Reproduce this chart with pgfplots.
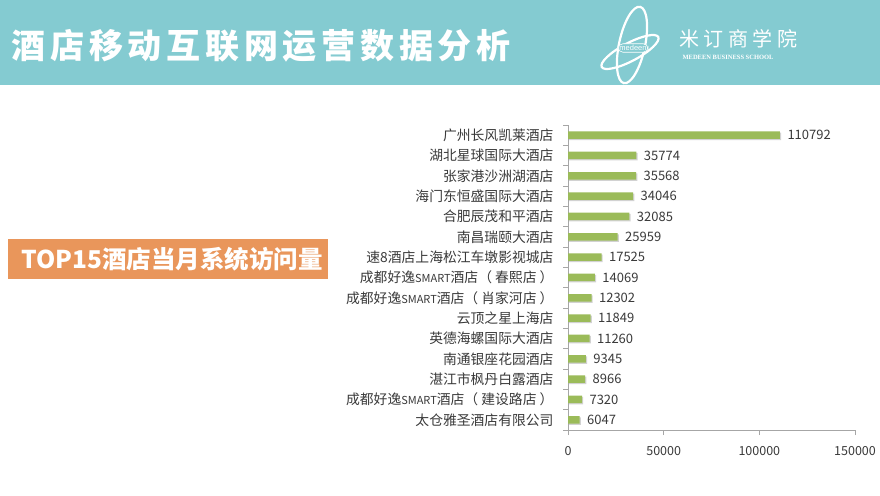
\documentclass[border=0pt]{standalone}
\usepackage{pgfplots}
\pgfplotsset{compat=1.18}
\usepackage{fontspec}
\setmainfont{Noto Sans CJK SC}
\newfontfamily\titlefont[LetterSpace=14]{Noto Sans CJK SC}
\newfontfamily\logofont[LetterSpace=22]{Noto Sans CJK SC}
\newfontfamily\serifont{Liberation Serif}
\newfontfamily\smallsans{Liberation Sans}
\usetikzlibrary{shadows}
\definecolor{headbg}{HTML}{84CBD1}
\definecolor{orangebox}{HTML}{E9965B}
\definecolor{bargreen}{HTML}{9BBB59}
\definecolor{txt}{HTML}{3A3A3A}
\definecolor{axgray}{HTML}{A6A6A6}
\begin{document}
\begin{tikzpicture}[x=1pt,y=1pt]
\useasboundingbox (0,0) rectangle (880,495);
\fill[white] (0,0) rectangle (880,495);
% header
\fill[headbg] (0,410) rectangle (880,495);
\node[anchor=west, text=white, font=\titlefont\bfseries\fontsize{34}{36}\selectfont] at (8,449) {酒店移动互联网运营数据分析};
% logo
\begin{scope}[white, line width=2.2pt]
\draw[rotate around={-12:(632,450)}] (632,450) ellipse [x radius=13, y radius=39];
\draw[rotate around={28:(630,443)}] (630,443) ellipse [x radius=32, y radius=9];
\end{scope}
\node[fill=headbg, inner sep=1.5pt, draw=white, line width=0.6pt, rounded corners=5pt, text=white, font=\smallsans\fontsize{7.5}{8}\selectfont] at (633,447) {medeen};
\node[anchor=west, text=white, font=\logofont\fontsize{20}{22}\selectfont] at (676,456) {米订商学院};
\node[anchor=west, text=white, font=\serifont\bfseries\fontsize{6.5}{7}\selectfont] at (679,438) {MEDEEN BUSINESS SCHOOL};
% orange label
\fill[orangebox] (8,216) rectangle (328,256);
\node[anchor=west, text=white, font=\bfseries\fontsize{24.5}{26}\selectfont] at (18,236) {TOP15酒店当月系统访问量};
\begin{axis}[
  at={(568pt,65pt)}, anchor=south west,
  scale only axis, width=287pt, height=305pt,
  xmin=0, xmax=150000, ymin=-0.5, ymax=14.5,
  axis x line*=bottom, axis y line*=left,
  axis line style={axgray, line width=0.8pt},
  every tick/.style={axgray, line width=0.8pt},
  tick align=outside,
  xtick={0,50000,100000,150000},
  xticklabels={0,50000,100000,150000},
  major tick length=5pt,
  scaled x ticks=false,
  xticklabel style={font=\fontsize{12.5}{13}\selectfont, text=txt, yshift=-8pt},
  ytick={0,...,14},
  major y tick style={draw=none},
  minor ytick={-0.5,0.5,...,14.5},
  minor tick length=5pt,
  minor y tick style={axgray, line width=0.8pt},
  yticklabels={太仓雅圣酒店有限公司,成都好逸{\fontsize{11}{12}\selectfont SMART}酒店（ 建设路店 ）,湛江市枫丹白露酒店,南通银座花园酒店,英德海螺国际大酒店,云顶之星上海店,成都好逸{\fontsize{11}{12}\selectfont SMART}酒店（ 肖家河店 ）,成都好逸{\fontsize{11}{12}\selectfont SMART}酒店（ 春熙店 ）,速8酒店上海松江车墩影视城店,南昌瑞颐大酒店,合肥辰茂和平酒店,海门东恒盛国际大酒店,张家港沙洲湖酒店,湖北星球国际大酒店,广州长风凯莱酒店},
  yticklabel style={font=\fontsize{13.8}{14}\selectfont, text=txt, xshift=-6pt},
  point meta=explicit symbolic,
  nodes near coords,
  nodes near coords style={font=\fontsize{13}{14}\selectfont, text=txt, anchor=west, xshift=4pt},
  clip=false,
]
\addplot[xbar, bar width=7.5pt, fill=bargreen, draw=none,
  drop shadow={shadow xshift=1.2pt, shadow yshift=-1.2pt, opacity=0.35, fill=gray}]
coordinates {
(6047,0) [6047] (7320,1) [7320] (8966,2) [8966] (9345,3) [9345] (11260,4) [11260]
(11849,5) [11849] (12302,6) [12302] (14069,7) [14069] (17525,8) [17525]
(25959,9) [25959] (32085,10) [32085] (34046,11) [34046] (35568,12) [35568]
(35774,13) [35774] (110792,14) [110792]
};
\end{axis}
\end{tikzpicture}
\end{document}
